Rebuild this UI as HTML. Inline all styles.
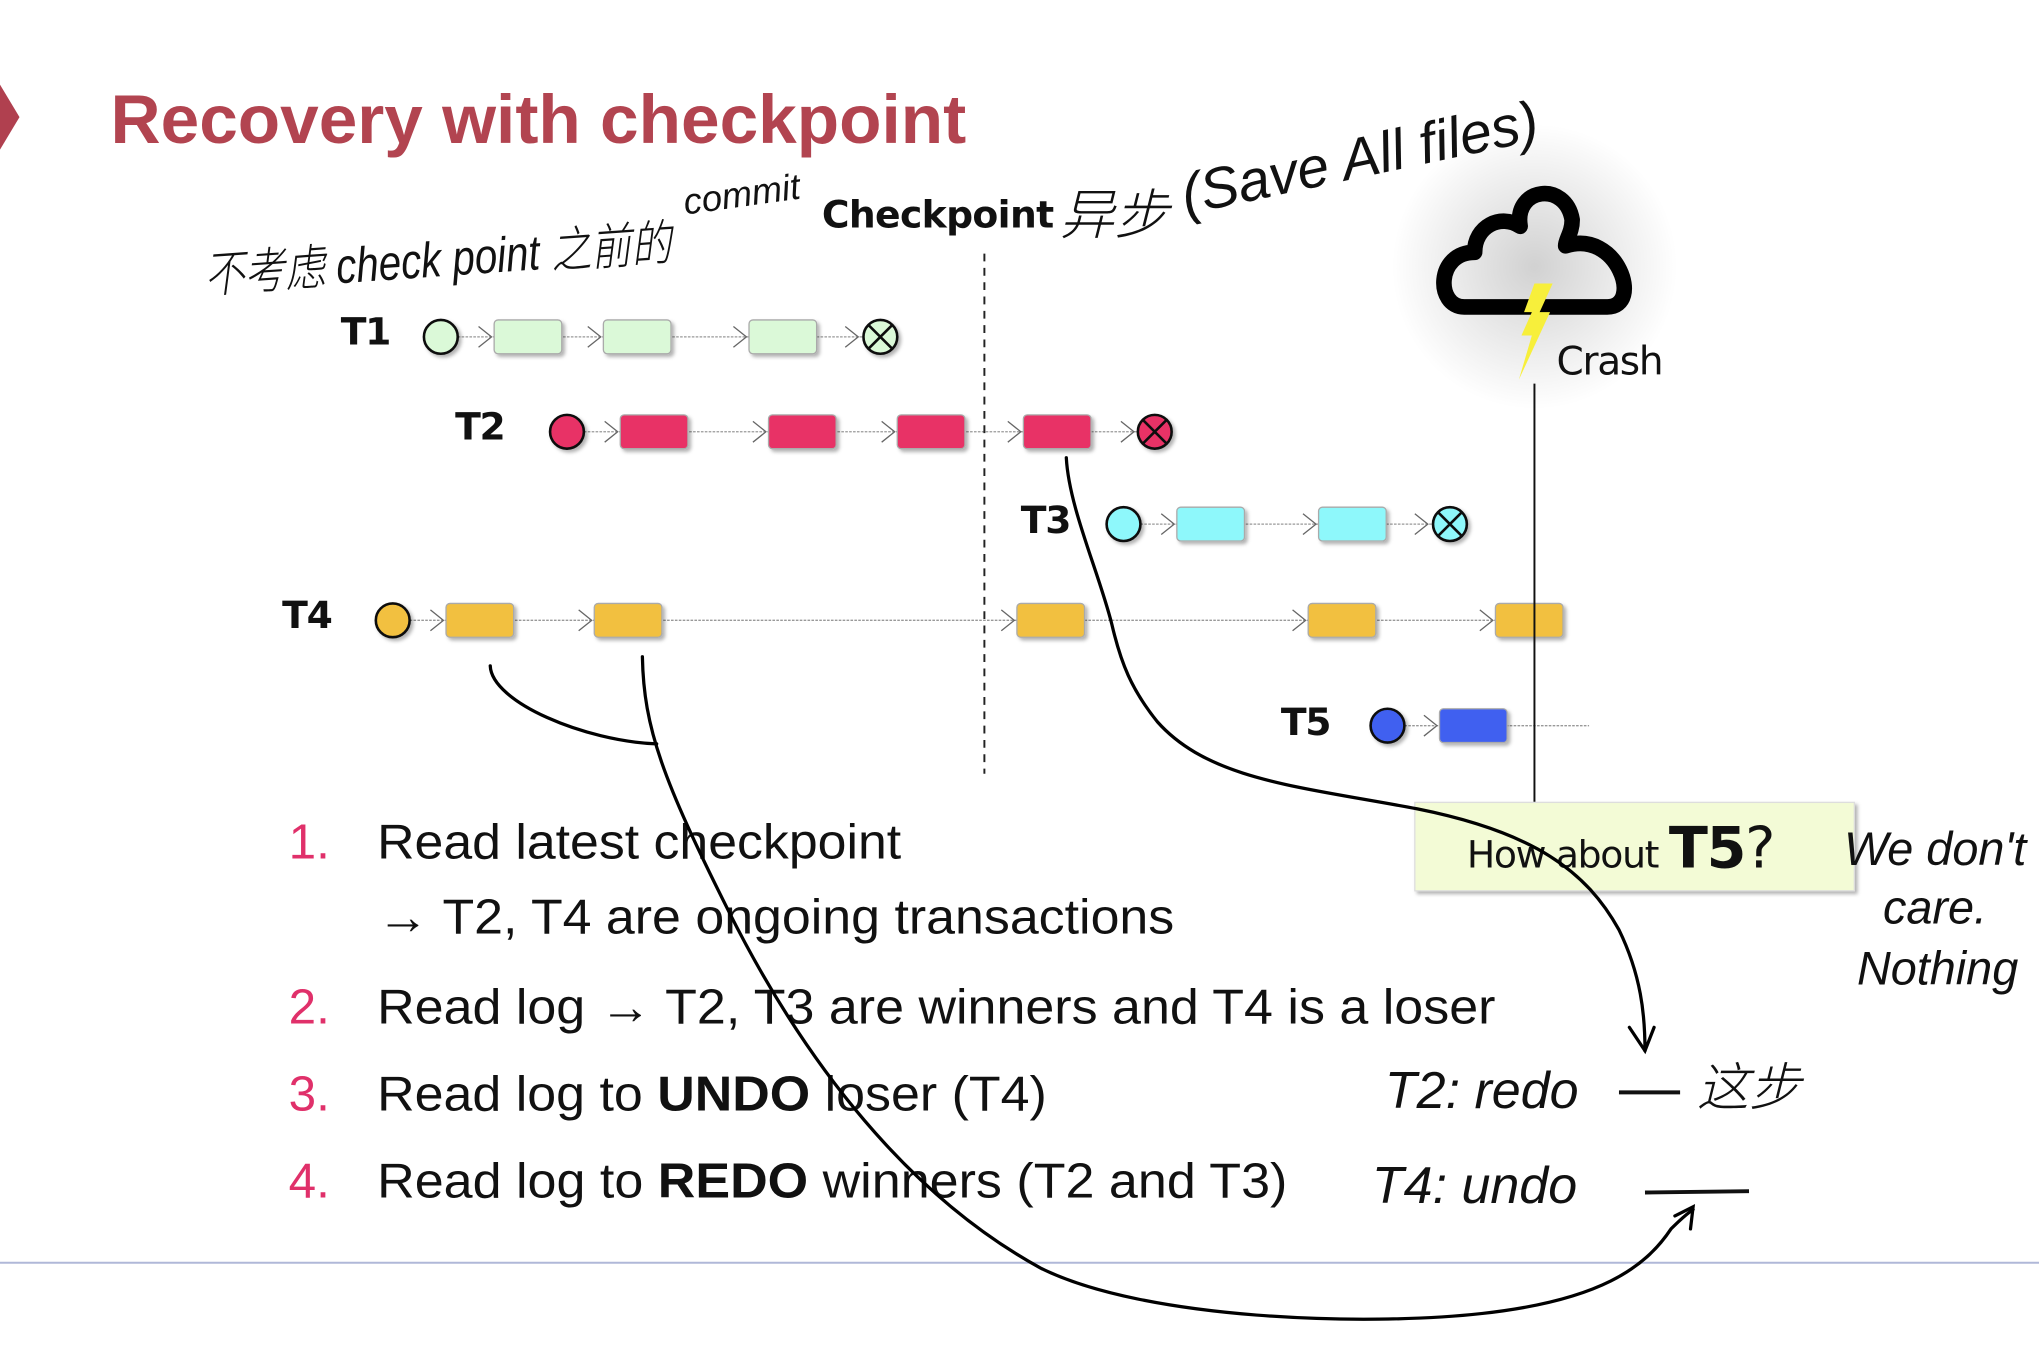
<!DOCTYPE html>
<html><head><meta charset="utf-8"><style>
html,body{margin:0;padding:0;background:#fff;}
svg{display:block;}
.lbl{font-family:"DejaVu Sans","Liberation Sans",sans-serif;font-weight:bold;font-size:29px;fill:#111;letter-spacing:-1px}
.li{font-family:"Liberation Sans",sans-serif;font-size:38px;fill:#111}
.num{font-family:"Liberation Sans",sans-serif;font-size:38px;fill:#e0306a}
.hw{font-family:"Liberation Sans","Noto Sans CJK SC",sans-serif;font-style:italic;fill:#111;font-weight:300}
</style></head><body>
<svg width="2039" height="1359" viewBox="0 0 1568 1045" xmlns="http://www.w3.org/2000/svg">
<defs>
<filter id="sh" x="-20%" y="-20%" width="150%" height="150%"><feDropShadow dx="2" dy="2" stdDeviation="1.5" flood-color="#000" flood-opacity="0.3"/></filter>
<radialGradient id="glow"><stop offset="0" stop-color="#000" stop-opacity="0.18"/><stop offset="1" stop-color="#000" stop-opacity="0"/></radialGradient>
</defs>
<polygon points="0,65 15,90 0,115" fill="#b0404f"/>
<text x="85" y="110" font-family="Liberation Sans,sans-serif" font-weight="bold" font-size="53" fill="#b24450" textLength="658" lengthAdjust="spacingAndGlyphs">Recovery with checkpoint</text>

<g stroke="#999" stroke-width="1" stroke-dasharray="2,1" fill="none">
<line x1="352" y1="259" x2="664" y2="259"/>
<line x1="449" y1="332" x2="875" y2="332"/>
<line x1="877" y1="403" x2="1102" y2="403"/>
<line x1="315" y1="477" x2="1150" y2="477"/>
<line x1="1080" y1="558" x2="1222" y2="558"/>
</g>
<g stroke="#666" stroke-width="1" fill="none">
<path d="M368,251 l10,8 l-10,8 M452,251 l10,8 l-10,8 M564,251 l10,8 l-10,8 M650,251 l10,8 l-10,8"/>
<path d="M465,324 l10,8 l-10,8 M579,324 l10,8 l-10,8 M678,324 l10,8 l-10,8 M775,324 l10,8 l-10,8 M862,324 l10,8 l-10,8"/>
<path d="M893,395 l10,8 l-10,8 M1002,395 l10,8 l-10,8 M1088,395 l10,8 l-10,8"/>
<path d="M331,469 l10,8 l-10,8 M445,469 l10,8 l-10,8 M770,469 l10,8 l-10,8 M994,469 l10,8 l-10,8 M1138,469 l10,8 l-10,8"/>
<path d="M1095,550 l10,8 l-10,8"/>
</g>

<g filter="url(#sh)">
<g fill="#dbf9d8" stroke="#aaa"><rect x="380" y="246" width="52" height="26" rx="3"/><rect x="464" y="246" width="52" height="26" rx="3"/><rect x="576" y="246" width="52" height="26" rx="3"/></g>
<g fill="#e83366" stroke="#aaa"><rect x="477" y="319" width="52" height="26" rx="3"/><rect x="591" y="319" width="52" height="26" rx="3"/><rect x="690" y="319" width="52" height="26" rx="3"/><rect x="787" y="319" width="52" height="26" rx="3"/></g>
<g fill="#8ef8fb" stroke="#aaa"><rect x="905" y="390" width="52" height="26" rx="3"/><rect x="1014" y="390" width="52" height="26" rx="3"/></g>
<g fill="#f2c040" stroke="#aaa"><rect x="343" y="464" width="52" height="26" rx="3"/><rect x="457" y="464" width="52" height="26" rx="3"/><rect x="782" y="464" width="52" height="26" rx="3"/><rect x="1006" y="464" width="52" height="26" rx="3"/><rect x="1150" y="464" width="52" height="26" rx="3"/></g>
<rect x="1107" y="545" width="52" height="26" rx="3" fill="#4060f0" stroke="#aaa"/>
<g stroke="#111" stroke-width="2">
<circle cx="339" cy="259" r="13" fill="#dbf9d8"/>
<circle cx="677" cy="259" r="13" fill="#dbf9d8"/>
<circle cx="436" cy="332" r="13" fill="#e83366"/>
<circle cx="888" cy="332" r="13" fill="#e83366"/>
<circle cx="864" cy="403" r="13" fill="#8ef8fb"/>
<circle cx="1115" cy="403" r="13" fill="#8ef8fb"/>
<circle cx="302" cy="477" r="13" fill="#f2c040"/>
<circle cx="1067" cy="558" r="13" fill="#4060f0"/>
<path d="M668,250 l18,18 M686,250 l-18,18 M879,323 l18,18 M897,323 l-18,18 M1106,394 l18,18 M1124,394 l-18,18"/>
</g>
</g>

<text class="lbl" x="262" y="265">T1</text>
<text class="lbl" x="350" y="338">T2</text>
<text class="lbl" x="785" y="410">T3</text>
<text class="lbl" x="217" y="483">T4</text>
<text class="lbl" x="985" y="565">T5</text>

<line x1="757" y1="195" x2="757" y2="595" stroke="#222" stroke-width="1.5" stroke-dasharray="6,5"/>
<text class="lbl" x="632" y="175" style="letter-spacing:-0.5px">Checkpoint</text>

<circle cx="1180" cy="205" r="110" fill="url(#glow)"/>
<path d="M1126,236 C1104,236 1104,194 1134,194 C1134,174 1154,164 1169,174 C1164,144 1204,139 1209,169 C1209,179 1204,184 1204,189 C1244,176 1264,236 1236,236 Z" fill="none" stroke="#000" stroke-width="12" stroke-linejoin="round"/>
<path d="M1180,218 L1194,218 L1184,240 L1192,240 L1168,292 L1178,258 L1170,258 L1178,240 L1172,240 Z" fill="#f7ef3b"/>
<line x1="1180" y1="295" x2="1180" y2="617" stroke="#111" stroke-width="1.5"/>
<text class="lbl" x="1197" y="288" style="font-size:30px;font-weight:normal">Crash</text>

<rect x="1088" y="617" width="338" height="68" fill="#f3fbd6" stroke="#ddd" filter="url(#sh)"/>
<text x="1128" y="667" font-family="DejaVu Sans,sans-serif" font-size="29" fill="#111" letter-spacing="-1">How about <tspan font-weight="bold" font-size="44">T5</tspan><tspan font-size="44">?</tspan></text>

<text class="num" x="222" y="660">1.</text><text class="li" x="290" y="660" textLength="403" lengthAdjust="spacingAndGlyphs">Read latest checkpoint</text>
<text class="li" x="290" y="718" textLength="613" lengthAdjust="spacingAndGlyphs">→ T2, T4 are ongoing transactions</text>
<text class="num" x="222" y="787">2.</text><text class="li" x="290" y="787" textLength="860" lengthAdjust="spacingAndGlyphs">Read log → T2, T3 are winners and T4 is a loser</text>
<text class="num" x="222" y="854">3.</text><text class="li" x="290" y="854" textLength="515" lengthAdjust="spacingAndGlyphs">Read log to <tspan font-weight="bold">UNDO</tspan> loser (T4)</text>
<text class="num" x="222" y="921">4.</text><text class="li" x="290" y="921" textLength="700" lengthAdjust="spacingAndGlyphs">Read log to <tspan font-weight="bold">REDO</tspan> winners (T2 and T3)</text>

<line x1="0" y1="971" x2="1568" y2="971" stroke="#b0b8d8" stroke-width="1.5"/>

<text class="hw" x="158" y="225" font-size="38" transform="rotate(-4 158 225)" textLength="360" lengthAdjust="spacingAndGlyphs">不考虑 check point 之前的</text>
<text class="hw" x="527" y="165" font-size="28" transform="rotate(-8 527 165)">commit</text>
<text class="hw" x="815" y="180" font-size="42">异步</text>
<text class="hw" x="912" y="165" font-size="44" transform="rotate(-12 912 165)">(Save All files)</text>
<text class="hw" x="1418" y="665" font-size="36">We don't</text>
<text class="hw" x="1448" y="710" font-size="36">care.</text>
<text class="hw" x="1428" y="757" font-size="36">Nothing</text>
<text class="hw" x="1065" y="852" font-size="40">T2: redo</text>
<line x1="1245" y1="840" x2="1292" y2="840" stroke="#111" stroke-width="3"/>
<text class="hw" x="1305" y="850" font-size="40">这步</text>
<text class="hw" x="1055" y="925" font-size="40">T4: undo</text>
<line x1="1265" y1="917" x2="1345" y2="916" stroke="#111" stroke-width="3"/>

<g fill="none" stroke="#000" stroke-width="2.5" stroke-linecap="round">
<path d="M820,352 C822,390 845,440 855,480 C862,510 870,530 890,555 C930,600 1000,605 1090,622 C1180,640 1220,670 1245,715 C1262,750 1265,780 1265,808"/>
<path d="M1253,790 L1265,808 L1272,790"/>
<path d="M377,512 C378,540 450,570 505,572"/>
<path d="M494,505 C495,560 510,600 560,700 C620,820 700,920 800,975 C880,1015 1050,1020 1140,1010 C1230,1000 1265,975 1285,945 C1295,935 1302,930 1302,930"/>
<path d="M1288,935 L1302,928 L1300,945"/>
</g>
</svg>
</body></html>
